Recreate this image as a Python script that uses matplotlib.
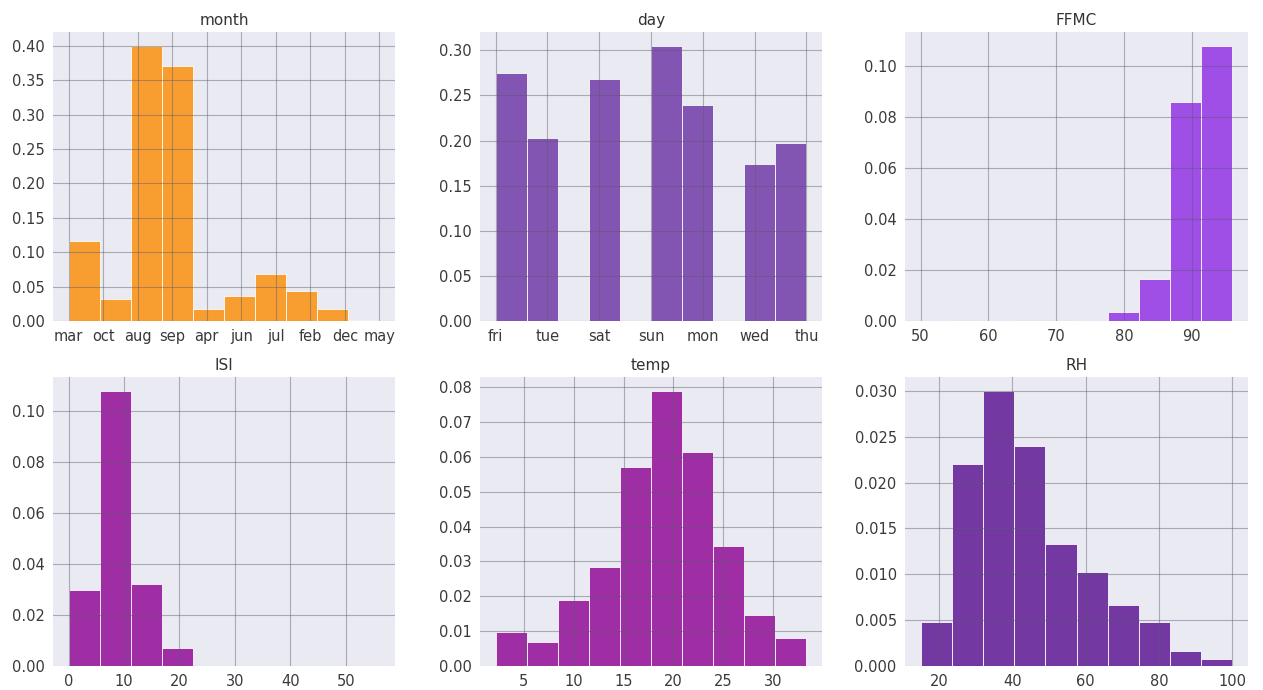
import numpy as np
import matplotlib
matplotlib.use("Agg")
import matplotlib.pyplot as plt

# bin heights (density)
month_labels = ['mar', 'oct', 'aug', 'sep', 'apr', 'jun', 'jul', 'feb', 'dec', 'may']
month_heights = [0.116, 0.032, 0.400, 0.370, 0.018, 0.036, 0.069, 0.044, 0.018, 0.002]

day_labels = ['fri', 'tue', 'sat', 'sun', 'mon', 'wed', 'thu']
day_heights = [0.275, 0.203, 0.0, 0.268, 0.0, 0.305, 0.239, 0.0, 0.174, 0.197]

ffmc_range = (50.0, 96.0)
ffmc_heights = [0.0005, 0.0, 0.0005, 0.0, 0.0, 0.0005, 0.0035, 0.0165, 0.086, 0.108]

isi_range = (0.0, 56.1)
isi_heights = [0.030, 0.108, 0.032, 0.007, 0.0, 0.0, 0.0, 0.0, 0.0, 0.0003]

temp_range = (2.2, 33.3)
temp_heights = [0.0098, 0.0068, 0.0190, 0.0285, 0.0572, 0.0790, 0.0615, 0.0345, 0.0147, 0.0080]

rh_range = (15.0, 100.0)
rh_heights = [0.0048, 0.0220, 0.0300, 0.0240, 0.0133, 0.0103, 0.0066, 0.0048, 0.0016, 0.0008]

panels = [
    ('month', (0, len(month_labels) - 1), month_heights, '#f99a25', month_labels),
    ('day', (0, len(day_labels) - 1), day_heights, '#7e4db0', day_labels),
    ('FFMC', ffmc_range, ffmc_heights, '#9b47e6', None),
    ('ISI', isi_range, isi_heights, '#9b24a0', None),
    ('temp', temp_range, temp_heights, '#9b24a0', None),
    ('RH', rh_range, rh_heights, '#6e2e9e', None),
]

# axes boxes in pixels: left, right, top, bottom
W, H = 1263, 690
cols = [(53, 395), (480, 822), (905, 1248)]
rows = [(32, 321), (377, 666)]

fig = plt.figure(figsize=(W / 100, H / 100), dpi=100)
fig.patch.set_facecolor('white')

for i, (name, (lo, hi), heights, color, labels) in enumerate(panels):
    l, r = cols[i % 3]
    t, b = rows[i // 3]
    ax = fig.add_axes([l / W, 1 - b / H, (r - l) / W, (b - t) / H])
    ax.set_facecolor('#eaeaf2')
    for s in ax.spines.values():
        s.set_visible(False)

    edges = np.linspace(lo, hi, len(heights) + 1)
    centers = (edges[:-1] + edges[1:]) / 2
    ax.hist(centers, bins=edges, weights=heights, color=color,
            edgecolor='white', linewidth=0.6, alpha=0.95)

    ax.set_axisbelow(False)
    ax.grid(True, color='#5a5a6e', alpha=0.45, linewidth=0.8)
    ax.set_title(name, fontsize=11, color='#333333', pad=5)
    ax.tick_params(axis='both', length=0, labelsize=10.5, colors='#3a3a3a', pad=6)

    if labels is not None:
        ax.set_xticks(range(len(labels)))
        ax.set_xticklabels(labels)

fig.savefig('out.png', dpi=100)
